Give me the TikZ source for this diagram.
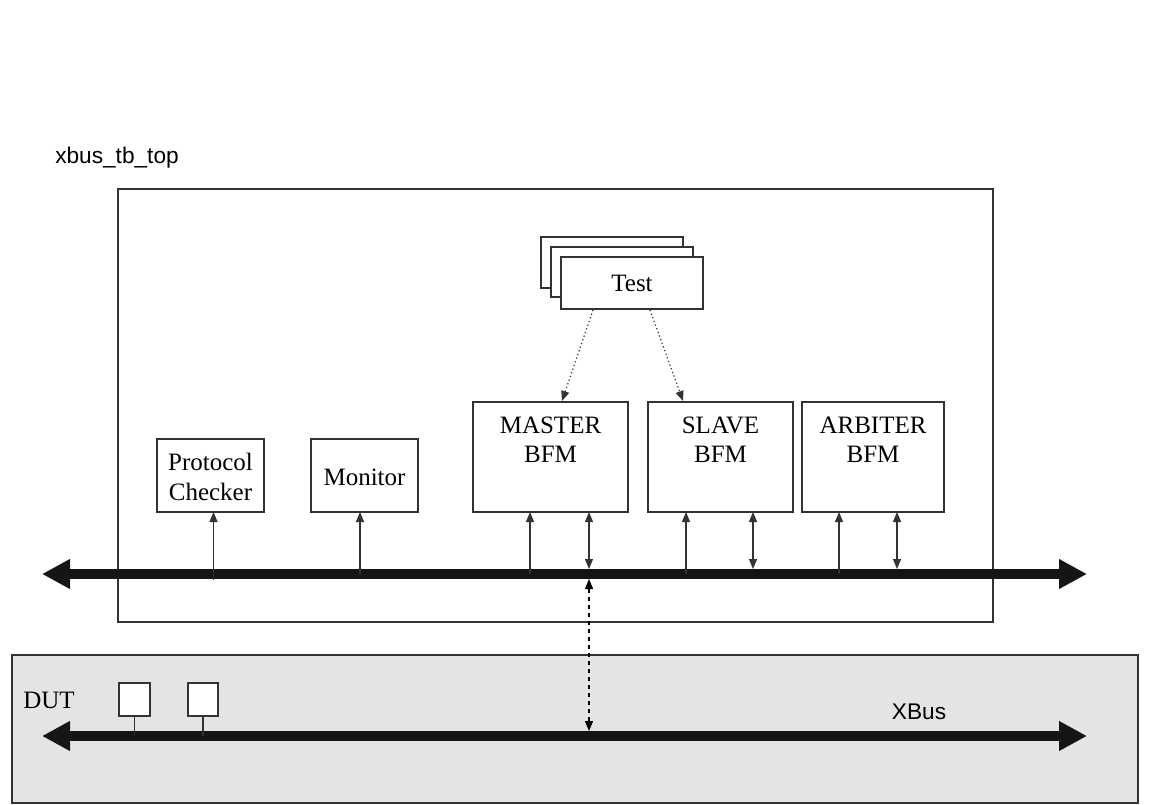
\documentclass[tikz,border=0pt]{standalone}
\usepackage{fontspec}
\setmainfont{Liberation Serif}
\newfontfamily\arialfont{Liberation Sans}
\usetikzlibrary{arrows.meta,calc}
\definecolor{linegray}{HTML}{333333}
\definecolor{dutgray}{HTML}{E6E4E2}
\definecolor{busblack}{HTML}{151515}
\tikzset{
  blk/.style={draw=linegray, line width=0.9pt, fill=white, rectangle, inner sep=0pt},
  lbl/.style={font=\fontsize{18.75pt}{22pt}\selectfont, align=center, inner sep=0pt},
  sanslbl/.style={font=\arialfont\fontsize{17pt}{20pt}\selectfont, inner sep=0pt},
  bus/.style={draw=busblack, line width=7.5pt, {Triangle[length=21pt,width=21pt]}-{Triangle[length=21pt,width=21pt]}},
  thinarrow/.style={draw=linegray, line width=0.8pt, -{Triangle[length=7.5pt,width=6pt]}},
  dblarrow/.style={draw=linegray, line width=0.8pt, {Triangle[length=7.5pt,width=6pt]}-{Triangle[length=7.5pt,width=6pt]}},
  dotarrow/.style={draw=linegray, line width=0.9pt, dotted, -{Triangle[length=7.5pt,width=6pt]}},
  dasharrow/.style={draw=black, line width=0.9pt, dash pattern=on 3.5pt off 2.5pt, {Triangle[length=7.5pt,width=6pt]}-{Triangle[length=7.5pt,width=6pt]}},
}
\begin{document}
\begin{tikzpicture}[x=0.75pt,y=-0.75pt]
\useasboundingbox[fill=white] (0,0) rectangle (1160,805);

% title
\node[sanslbl, anchor=west] (title) at (55,158) {xbus\_tb\_top};

% outer testbench box
\node[draw=linegray, line width=0.9pt, rectangle, inner sep=0pt, minimum width=875*0.75pt, minimum height=433*0.75pt] (tb) at (555.5,405.5) {};

% DUT area
\node[draw=linegray, line width=0.9pt, fill=dutgray, rectangle, inner sep=0pt, minimum width=1126*0.75pt, minimum height=148*0.75pt] (dut) at (575,729) {};
\node[lbl] (dutlbl) at (49,700) {DUT};
\node[sanslbl] (xbuslbl) at (919,712) {XBus};

% Test stack
\node[blk, minimum width=142*0.75pt, minimum height=51*0.75pt] (test3) at (612,262.5) {};
\node[blk, minimum width=142*0.75pt, minimum height=50*0.75pt] (test2) at (622,272) {};
\node[blk, minimum width=142*0.75pt, minimum height=52*0.75pt] (test) at (632,283) {};
\node[lbl] (testlbl) at (test) {Test};

% BFM and other boxes
\node[blk, minimum width=107*0.75pt, minimum height=73*0.75pt] (pc) at (210.5,475.5) {};
\node[lbl] (pclbl) at (210.5,477) {Protocol\\Checker};
\node[blk, minimum width=107*0.75pt, minimum height=73*0.75pt] (mon) at (364.5,475.5) {};
\node[lbl] (monlbl) at (364.5,477) {Monitor};
\node[blk, minimum width=155*0.75pt, minimum height=110*0.75pt] (mas) at (550.5,457) {};
\node[lbl] (maslbl) at (550.5,440) {MASTER\\BFM};
\node[blk, minimum width=145*0.75pt, minimum height=110*0.75pt] (sla) at (720.5,457) {};
\node[lbl] (slalbl) at (720.5,440) {SLAVE\\BFM};
\node[blk, minimum width=142*0.75pt, minimum height=110*0.75pt] (arb) at (873,457) {};
\node[lbl] (arblbl) at (873,440) {ARBITER\\BFM};

% bus coordinates
\coordinate (tbL) at (42,574);
\coordinate (tbR) at (1087,574);
\coordinate (dL) at (42,736);
\coordinate (dR) at (1087,736);

% buses
\draw[bus] (tbL) -- (tbR);
\draw[bus] (dL) -- (dR);

% DUT small boxes
\node[draw=linegray, line width=0.9pt, fill=white, rectangle, inner sep=0pt, minimum width=31*0.75pt, minimum height=33*0.75pt] (d1) at (134.5,699.5) {};
\node[draw=linegray, line width=0.9pt, fill=white, rectangle, inner sep=0pt, minimum width=30*0.75pt, minimum height=33*0.75pt] (d2) at (203,699.5) {};
\draw[linegray, line width=0.8pt] (d1.south) -- (d1.south |- dL);
\draw[linegray, line width=0.8pt] (d2.south) -- (d2.south |- dL);

% connection points
\coordinate (pcA) at (213.5,512);
\coordinate (monA) at (360,512);
\coordinate (masA) at (530,512);
\coordinate (masB) at (589,512);
\coordinate (slaA) at (686,512);
\coordinate (slaB) at (753,512);
\coordinate (arbA) at (839,512);
\coordinate (arbB) at (897,512);
\coordinate (pcBus) at (213.5,580);

\draw[thinarrow] (pcBus) -- (pcA);
\draw[thinarrow] (monA |- tbL) -- (monA);
\draw[thinarrow] (masA |- tbL) -- (masA);
\draw[thinarrow] (slaA |- tbL) -- (slaA);
\draw[thinarrow] (arbA |- tbL) -- (arbA);
\coordinate (masBb) at (589,569);
\coordinate (slaBb) at (753,569);
\coordinate (arbBb) at (897,569);
\draw[dblarrow] (masBb) -- (masB);
\draw[dblarrow] (slaBb) -- (slaB);
\draw[dblarrow] (arbBb) -- (arbB);

% dashed link DUT bus <-> TB bus
\coordinate (dutTap) at (589,731);
\coordinate (tbTap) at (589,579);
\draw[dasharrow] (dutTap) -- (tbTap);

% dotted arrows from test
\coordinate (tS1) at (593,310);
\coordinate (tS2) at (650,310);
\coordinate (masT) at (562,401);
\coordinate (slaT) at (683,401);
\draw[dotarrow] (tS1) -- (masT);
\draw[dotarrow] (tS2) -- (slaT);
\end{tikzpicture}
\end{document}
